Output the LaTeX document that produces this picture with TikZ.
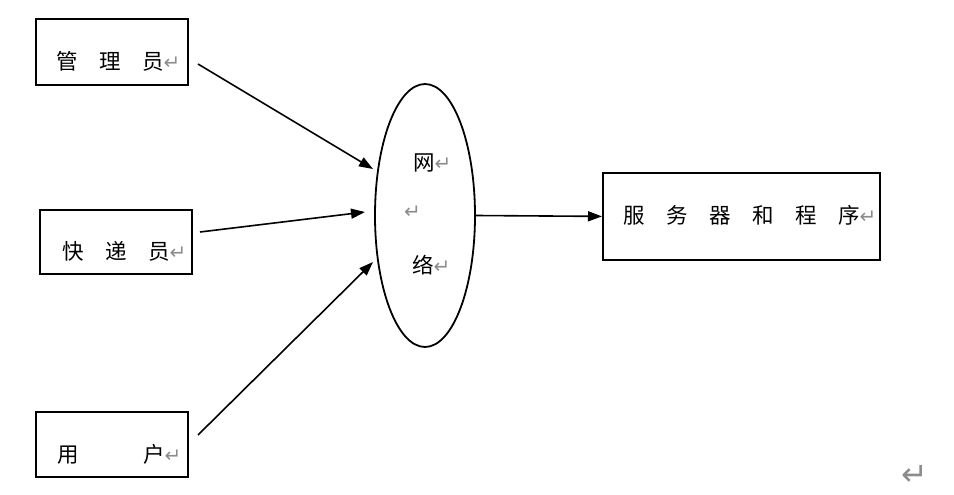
\documentclass[tikz,border=0pt]{standalone}
\usepackage{fontspec}
\newfontfamily\cjk{Noto Sans CJK SC}
\newfontfamily\symfnt{DejaVu Sans}
\usetikzlibrary{arrows.meta,shapes.geometric}
\newcommand\parmk{\smash{\symfnt\fontsize{20}{20}\selectfont\color{gray!90}↵}}
\begin{document}
\begin{tikzpicture}[x=1pt,y=-1pt,
  box/.style={draw,line width=1.8pt,inner sep=0pt,anchor=north west},
  lbl/.style={inner sep=0pt,anchor=west,font=\cjk\fontsize{21.5}{21.5}\selectfont},
  pm/.style={inner sep=0pt,anchor=west,text=gray!90,font=\symfnt\fontsize{20}{20}\selectfont},
  conn/.style={line width=1.6pt,-{Triangle[length=14pt,width=10pt]}}]
\useasboundingbox (0,0) rectangle (954,495);
% boxes
\node[box,minimum width=152pt,minimum height=66pt] (b1) at (35,18) {};
\node[box,minimum width=152pt,minimum height=64pt] (b2) at (39,209) {};
\node[box,minimum width=152pt,minimum height=65pt] (b3) at (35,411) {};
\node[box,minimum width=277pt,minimum height=87pt] (srv) at (602,172) {};
\node[draw,ellipse,line width=1.8pt,minimum width=100pt,minimum height=263pt,inner sep=0pt] (net) at (425,215.5) {};
% labels
\node[lbl] (t1) at (56,61) {管　理　员\parmk};
\node[lbl] (t2) at (62,251) {快　递　员\parmk};
\node[lbl] (t3) at (57,454) {用　　　户\parmk};
\node[lbl] (n1) at (413,163) {网\parmk};
\node[pm] (n2) at (404,218) {\smash{↵}};
\node[lbl] (n3) at (412,265) {络\parmk};
\node[lbl] (st) at (623,215) {服　务　器　和　程　序\parmk};
\node[pm,font=\symfnt\fontsize{32}{32}\selectfont] (endmk) at (901,485) {\smash{↵}};
% connectors
\coordinate (a1s) at (198,64);  \coordinate (a1e) at (373,169);
\coordinate (a2s) at (200,232); \coordinate (a2e) at (365,212);
\coordinate (a3s) at (198,435); \coordinate (a3e) at (373,262);
\draw[conn] (a1s) -- (a1e);
\draw[conn] (a2s) -- (a2e);
\draw[conn] (a3s) -- (a3e);
\draw[conn] (net.east) -- (srv.west);
\end{tikzpicture}
\end{document}
